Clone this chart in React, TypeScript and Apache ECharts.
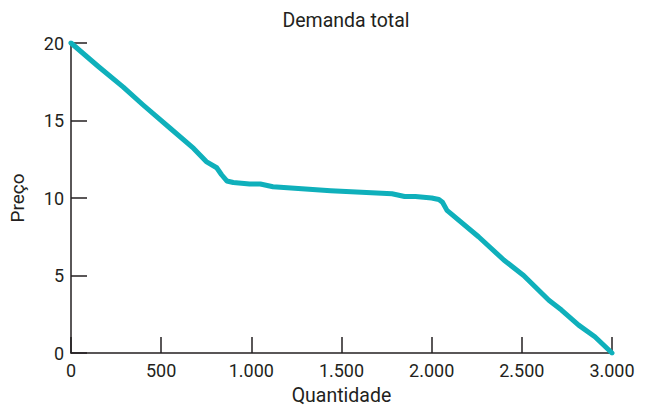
import React, { useEffect, useRef } from "react";
import * as echarts from "echarts";

const quantities = [0, 150, 290, 400, 550, 680, 750, 808, 835, 864, 900, 990, 1050, 1120, 1440, 1780, 1850, 1910, 2000, 2040, 2060, 2085, 2260, 2400, 2510, 2650, 2720, 2815, 2905, 3000];
const prices = [20, 18.5, 17.15, 16.0, 14.5, 13.2, 12.35, 11.95, 11.5, 11.1, 11.0, 10.9, 10.9, 10.73, 10.47, 10.27, 10.1, 10.1, 10.0, 9.9, 9.72, 9.2, 7.5, 6.0, 5.0, 3.4, 2.77, 1.8, 1.05, 0];

const xTickValues = [0, 500, 1000, 1500, 2000, 2500, 3000];
const xTickLabels = ["0", "500", "1.000", "1.500", "2.000", "2.500", "3.000"];

const titleText = "Demanda total";
const xName = "Quantidade";
const yName = "Preço";

const ink = "#231f20";
const font = "Roboto";

export default function App() {
  const ref = useRef<HTMLDivElement>(null);
  useEffect(() => {
    if (!ref.current) return;
    const chart = echarts.init(ref.current, null, { renderer: "svg" });
    chart.setOption({
      animation: false,
      backgroundColor: "#ffffff",
      title: {
        text: titleText,
        left: 341,
        textAlign: "center",
        top: 5,
        textStyle: { fontFamily: font, fontSize: 19.5, fontWeight: "normal", color: ink },
      },
      grid: { left: 71, right: 33, top: 43, bottom: 57 },
      xAxis: {
        type: "value",
        min: 0,
        max: 3000,
        interval: 500,
        name: xName,
        nameLocation: "middle",
        nameGap: 32,
        nameTextStyle: { fontFamily: font, fontSize: 19.5, color: ink },
        axisLine: { lineStyle: { color: ink, width: 1.5 } },
        axisTick: { inside: true, length: 16, lineStyle: { color: ink, width: 1.5 } },
        axisLabel: {
          margin: 8,
          fontFamily: font,
          fontSize: 18,
          color: ink,
          formatter: (v: number) => {
            const i = xTickValues.indexOf(v);
            return i >= 0 ? xTickLabels[i] : String(v);
          },
        },
        splitLine: { show: false },
      },
      yAxis: {
        type: "value",
        min: 0,
        max: 20,
        interval: 5,
        name: yName,
        nameLocation: "middle",
        nameGap: 44,
        nameTextStyle: { fontFamily: font, fontSize: 19, color: ink },
        axisLine: { show: true, lineStyle: { color: ink, width: 1.5 } },
        axisTick: { show: true, inside: true, length: 16, lineStyle: { color: ink, width: 1.5 } },
        axisLabel: { margin: 7, fontFamily: font, fontSize: 18, color: ink },
        splitLine: { show: false },
      },
      series: [
        {
          type: "line",
          data: quantities.map((q, i) => [q, prices[i]]),
          showSymbol: false,
          symbol: "none",
          lineStyle: { color: "#0fb0bb", width: 5, cap: "round", join: "round" },
        },
      ],
    });
    return () => chart.dispose();
  }, []);
  return (
    <div
      ref={ref}
      style={{ position: "absolute", left: 0, top: 0, width: 645, height: 410 }}
    />
  );
}
